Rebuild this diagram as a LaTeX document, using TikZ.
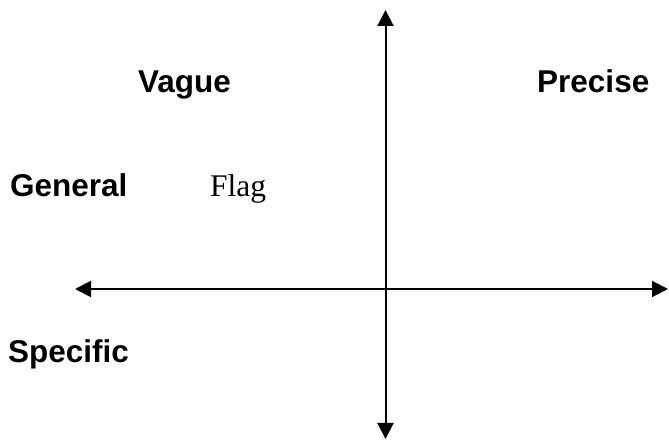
\documentclass[tikz,border=0pt]{standalone}
\usepackage{fontspec}
\setmainfont{Liberation Serif}
\setsansfont{Liberation Sans}
\usetikzlibrary{arrows.meta}
\begin{document}
\begin{tikzpicture}[x=1pt,y=1pt,
  lbl/.style={font=\sffamily\bfseries\fontsize{31.5}{36}\selectfont, inner sep=0pt, anchor=base west},
  serif/.style={font=\rmfamily\fontsize{31.5}{36}\selectfont, inner sep=0pt, anchor=base west},
  axis/.style={line width=2pt, {Triangle[length=16pt,width=16pt]}-{Triangle[length=16pt,width=16pt]}}]
\useasboundingbox (0,0) rectangle (669,441);
\coordinate (top) at (385.5,431);
\coordinate (bottom) at (385.5,2);
\coordinate (left) at (75,152);
\coordinate (right) at (668,152);
\draw[axis] (bottom) -- (top);
\draw[axis] (left) -- (right);
\node[lbl] (vague) at (138,348) {Vague};
\node[lbl] (precise) at (537,348) {Precise};
\node[lbl] (general) at (10,244) {General};
\node[serif] (flag) at (210,244) {Flag};
\node[lbl] (specific) at (8,78) {Specific};
\end{tikzpicture}
\end{document}
